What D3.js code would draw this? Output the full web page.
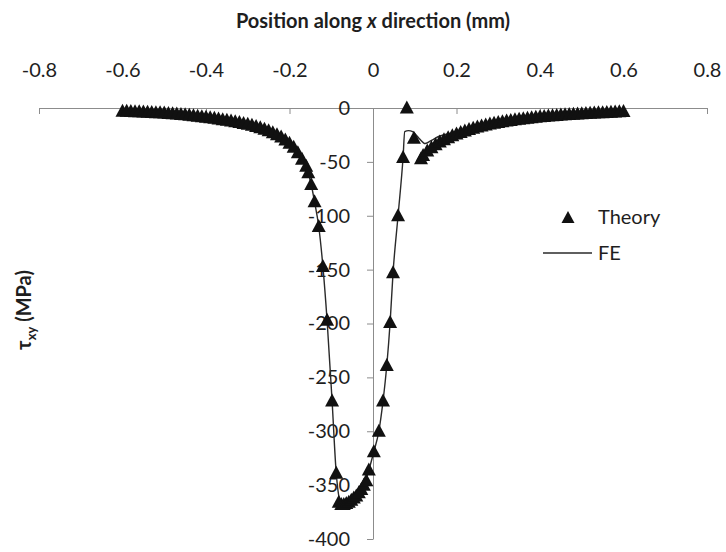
<!DOCTYPE html>
<html>
<head>
<meta charset="utf-8">
<script src="https://cdn.jsdelivr.net/npm/d3@7"></script>
<style>
  html, body { margin: 0; padding: 0; background: #fff; }
  svg { display: block; }
  text { font-family: Lato, "Open Sans", "Liberation Sans", sans-serif; fill: #1e1e1e; }
</style>
</head>
<body>
<svg id="chart" width="726" height="552"></svg>
<script>
// Shear stress tau_xy along the x direction: analytical (Theory) vs finite element (FE)
const theoryX = [
  -0.60, -0.59, -0.58, -0.57, -0.56, -0.55, -0.54, -0.53, -0.52, -0.51,
  -0.50, -0.49, -0.48, -0.47, -0.46, -0.45, -0.44, -0.43, -0.42, -0.41,
  -0.40, -0.39, -0.38, -0.37, -0.36, -0.35, -0.34, -0.33, -0.32, -0.31,
  -0.30, -0.29, -0.28, -0.27, -0.26, -0.25, -0.24, -0.23, -0.22, -0.21,
  -0.20, -0.19, -0.18, -0.17, -0.16,
  -0.155, -0.148, -0.140, -0.130, -0.120, -0.110, -0.098, -0.088,
  -0.082, -0.076, -0.070, -0.064, -0.058, -0.052, -0.046, -0.040, -0.034, -0.028, -0.022, -0.016,
  -0.010, 0.002, 0.014, 0.024, 0.033, 0.041, 0.048, 0.060, 0.072, 0.081, 0.098, 0.115,
  0.12, 0.13, 0.14, 0.15, 0.16, 0.17, 0.18, 0.19, 0.20, 0.21,
  0.22, 0.23, 0.24, 0.25, 0.26, 0.27, 0.28, 0.29, 0.30, 0.31,
  0.32, 0.33, 0.34, 0.35, 0.36, 0.37, 0.38, 0.39, 0.40, 0.41,
  0.42, 0.43, 0.44, 0.45, 0.46, 0.47, 0.48, 0.49, 0.50, 0.51,
  0.52, 0.53, 0.54, 0.55, 0.56, 0.57, 0.58, 0.59, 0.60
];
const theoryY = [
  -3.0, -3.1, -3.2, -3.4, -3.5, -3.7, -3.9, -4.1, -4.3, -4.5,
  -4.7, -5.0, -5.3, -5.6, -6.0, -6.3, -6.7, -7.1, -7.6, -8.1,
  -8.6, -9.1, -9.6, -10.2, -10.8, -11.4, -12.1, -12.8, -13.5, -14.3,
  -15.1, -16.0, -17.1, -18.3, -19.7, -21.2, -22.9, -24.8, -27.0, -29.6,
  -32.6, -36.5, -41.5, -47.5, -54.0,
  -60, -71, -87, -110, -147, -197, -272, -339,
  -366, -368, -368, -367, -366, -364, -362, -360, -357, -354, -350, -346,
  -336, -319, -300, -272, -239, -199, -153, -100, -46, 0, -28, -47,
  -44, -40, -37, -34, -31.5, -29.5, -27.5, -25.8, -24.2, -22.7,
  -21.3, -20.0, -18.8, -17.7, -16.7, -15.8, -14.9, -14.1, -13.4, -12.7,
  -12.1, -11.5, -10.9, -10.4, -9.9, -9.4, -9.0, -8.6, -8.2, -7.8,
  -7.5, -7.2, -6.9, -6.6, -6.3, -6.0, -5.8, -5.5, -5.3, -5.1,
  -4.9, -4.7, -4.5, -4.3, -4.1, -3.9, -3.7, -3.5, -3.3
];

const feX = [
  -0.60, -0.55, -0.50, -0.45, -0.40, -0.35, -0.30, -0.26, -0.22, -0.20,
  -0.18, -0.16, -0.148, -0.140, -0.130, -0.120, -0.110, -0.098, -0.088, -0.080,
  -0.070, -0.060, -0.050, -0.040, -0.030, -0.020, -0.010, 0.002, 0.014, 0.024,
  0.033, 0.041, 0.048, 0.060, 0.072, 0.076, 0.085, 0.095, 0.110, 0.125,
  0.140, 0.160, 0.180, 0.200, 0.220, 0.250, 0.300, 0.350, 0.400, 0.450,
  0.500, 0.550, 0.600
];
const feY = [
  -3.0, -3.7, -4.7, -6.3, -8.6, -11.4, -15.1, -19.7, -27.0, -32.6,
  -41.5, -54, -71, -87, -110, -147, -197, -272, -339, -363,
  -368, -367, -364, -360, -355, -348, -336, -319, -300, -272,
  -239, -199, -153, -100, -46, -22, -21, -22, -28, -33,
  -30, -26, -24, -22.5, -21, -17.7, -13.4, -10.4, -8.2, -6.6,
  -5.3, -4.3, -3.3
];

const xTicks = [-0.8, -0.6, -0.4, -0.2, 0, 0.2, 0.4, 0.6, 0.8];
const yTicks = [0, -50, -100, -150, -200, -250, -300, -350, -400];

const svg = d3.select("#chart");
const axisColor = "#8c8c8c";

const x = d3.scaleLinear().domain([-0.8, 0.8]).range([39, 707]);
const y = d3.scaleLinear().domain([-400, 0]).range([539, 108]);

// Horizontal axis sits at tau = 0, with labels raised above it
const xAxis = svg.append("g")
  .attr("transform", `translate(0,${y(0)})`)
  .call(d3.axisBottom(x).tickValues(xTicks).tickSize(6).tickSizeOuter(0)
    .tickFormat(d => String(d)));
xAxis.select(".domain").attr("stroke", axisColor);
xAxis.selectAll(".tick line").attr("stroke", axisColor);
xAxis.selectAll(".tick text")
  .attr("y", -38).attr("dy", "0.35em")
  .style("font-size", "20px").style("fill", "#1e1e1e");

// Vertical axis at x = 0
const yAxis = svg.append("g")
  .attr("transform", `translate(${x(0)},0)`)
  .call(d3.axisLeft(y).tickValues(yTicks).tickSize(6).tickSizeOuter(0).tickPadding(17)
    .tickFormat(d => String(d)));
yAxis.select(".domain").attr("stroke", axisColor);
yAxis.selectAll(".tick line").attr("stroke", axisColor);
yAxis.selectAll(".tick text")
  .style("font-size", "20px").style("fill", "#1e1e1e");

// Axis titles
const title = svg.append("text")
  .attr("x", x(0)).attr("y", 21).attr("dy", "0.35em")
  .attr("text-anchor", "middle")
  .style("font-size", "20px").style("font-weight", "bold");
title.append("tspan").text("Position along ");
title.append("tspan").style("font-style", "italic").text("x");
title.append("tspan").text(" direction (mm)");

const yTitle = svg.append("text")
  .attr("transform", "translate(24,310) rotate(-90)")
  .attr("text-anchor", "middle").attr("dy", "0.35em")
  .style("font-size", "20px").style("font-weight", "bold");
yTitle.append("tspan").text("τ");
yTitle.append("tspan").attr("dy", "5").style("font-size", "13px").text("xy");
yTitle.append("tspan").attr("dy", "-5").text(" (MPa)");

// FE curve
const fe = feX.map((v, i) => [v, feY[i]]);
svg.append("path")
  .datum(fe)
  .attr("fill", "none")
  .attr("stroke", "#2a2a2a")
  .attr("stroke-width", 1.4)
  .attr("d", d3.line().x(d => x(d[0])).y(d => y(d[1])).curve(d3.curveMonotoneX));

// Theory markers (filled triangles)
const tri = "M0,-7.5L7,5.5L-7,5.5Z";
const theory = theoryX.map((v, i) => [v, theoryY[i]]);
svg.append("g").selectAll("path")
  .data(theory)
  .join("path")
  .attr("d", tri)
  .attr("transform", d => `translate(${x(d[0])},${y(d[1])})`)
  .attr("fill", "#111");

// Legend
const legend = svg.append("g");
legend.append("path").attr("d", "M0,-7L6.5,5L-6.5,5Z").attr("transform", "translate(568,218)").attr("fill", "#111");
legend.append("text").attr("x", 598).attr("y", 217).attr("dy", "0.35em")
  .style("font-size", "20px").text("Theory");
legend.append("line").attr("x1", 543).attr("x2", 592).attr("y1", 253).attr("y2", 253)
  .attr("stroke", "#2a2a2a").attr("stroke-width", 1.4);
legend.append("text").attr("x", 598).attr("y", 253).attr("dy", "0.35em")
  .style("font-size", "20px").text("FE");
</script>
</body>
</html>
